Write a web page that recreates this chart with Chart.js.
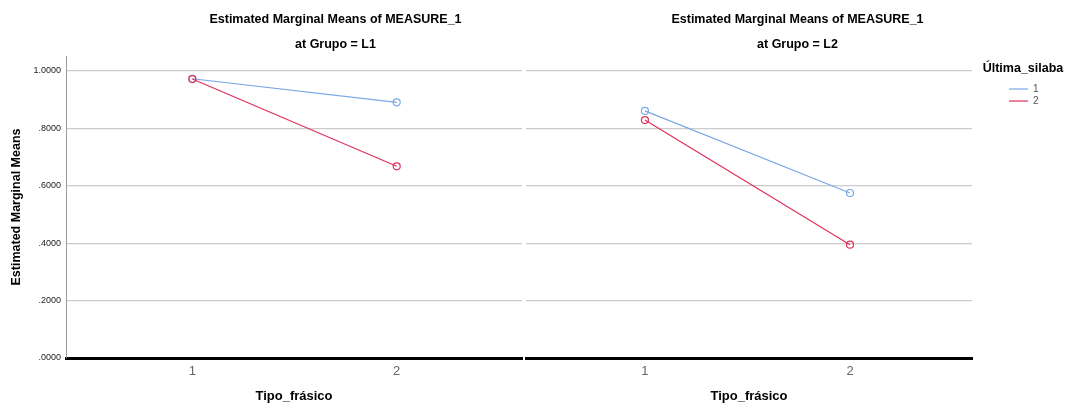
<!DOCTYPE html>
<html>
<head>
<meta charset="utf-8">
<script src="https://cdn.jsdelivr.net/npm/chart.js@4"></script>
<style>
    body { margin: 0; background: #fff; width: 1067px; height: 406px; overflow: hidden; position: relative; }
    canvas { position: absolute; top: 0; }
    #grupoL1 { left: 0; }
    #grupoL2 { left: 524px; }
</style>
</head>
<body>
<canvas id="grupoL1" width="524" height="406"></canvas>
<canvas id="grupoL2" width="543" height="406"></canvas>
<script>
var tipoFrasico = ['1', '2'];
var ultimaSilaba = ['1', '2'];
var yTicks = [0, 0.2, 0.4, 0.6, 0.8, 1.0];

// estimated marginal means, one array per Última_silaba level
var l1Silaba1 = [0.973, 0.891];
var l1Silaba2 = [0.972, 0.668];
var l2Silaba1 = [0.861, 0.575];
var l2Silaba2 = [0.829, 0.395];

var AZUL = '#7aa8e6';
var ROJO = '#e0305a';
var FUENTE = '"Liberation Sans", Arial, Helvetica, sans-serif';

Chart.defaults.font.family = FUENTE;
Chart.defaults.color = '#333';

// two-line panel heading (centred a bit right of the plot area)
// plus the legend heading above the legend items
var tituloPanel = {
    id: 'tituloPanel',
    afterDraw: function (chart, args, opts) {
        var ctx = chart.ctx, area = chart.chartArea;
        var x = (area.left + area.right) / 2 + opts.desplazamiento;
        ctx.save();
        ctx.font = 'bold 12.5px ' + FUENTE;
        ctx.fillStyle = '#000';
        ctx.textAlign = 'center';
        ctx.textBaseline = 'middle';
        opts.lineas.forEach(function (t, i) {
            ctx.fillText(t, x, 20 + i * 25);
        });
        if (opts.encabezadoLeyenda && chart.legend && chart.legend.options.display) {
            var lg = chart.legend;
            ctx.fillText(opts.encabezadoLeyenda, (lg.left + lg.right) / 2, 69);
        }
        ctx.restore();
    }
};

function serie(etiqueta, valores, color, orden) {
    return {
        label: etiqueta,
        data: valores.map(function (v, i) { return { x: i + 1, y: v }; }),
        borderColor: color,
        borderWidth: 1.2,
        pointRadius: 3.5,
        pointBorderWidth: 1.2,
        pointBorderColor: color,
        pointBackgroundColor: 'rgba(255,255,255,0)',
        order: orden,
        tension: 0,
        fill: false
    };
}

function ejeX(min, max) {
    return {
        type: 'linear',
        min: min,
        max: max,
        afterBuildTicks: function (s) {
            s.ticks = tipoFrasico.map(function (t, i) { return { value: i + 1 }; });
        },
        afterFit: function (s) { s.height = 48; },
        grid: { drawTicks: false, color: 'rgba(0,0,0,0)' },
        border: { color: '#000', width: 3 },
        ticks: {
            padding: 6,
            font: { size: 13 },
            color: '#666',
            callback: function (v) { return tipoFrasico[v - 1]; }
        },
        title: {
            display: true,
            text: 'Tipo_frásico',
            color: '#000',
            font: { size: 13, weight: 'bold' },
            padding: { top: 0, bottom: 1.5 }
        }
    };
}

function ejeY(visible) {
    return {
        type: 'linear',
        position: visible ? 'left' : 'right',
        min: 0,
        max: 1.0523,
        afterBuildTicks: function (s) {
            s.ticks = yTicks.map(function (v) { return { value: v }; });
        },
        afterFit: function (s) { s.width = visible ? 66 : 35; },
        grid: {
            drawTicks: false,
            lineWidth: 1.3,
            color: function (c) {
                return c.tick && c.tick.value === 0 ? 'rgba(0,0,0,0)' : '#cccccc';
            }
        },
        border: { display: visible, color: '#999', width: 1 },
        ticks: {
            display: visible,
            padding: 5,
            font: { size: 9 },
            color: '#222',
            callback: function (v) { return v.toFixed(4).replace(/^0\./, '.'); }
        },
        title: {
            display: visible,
            text: 'Estimated Marginal Means',
            color: '#000',
            font: { size: 12.5, weight: 'bold' },
            padding: { top: 9.5, bottom: 0 }
        }
    };
}

new Chart(document.getElementById('grupoL1').getContext('2d'), {
    type: 'line',
    data: {
        datasets: [
            serie(ultimaSilaba[0], l1Silaba1, AZUL, 1),
            serie(ultimaSilaba[1], l1Silaba2, ROJO, 0)
        ]
    },
    options: {
        responsive: false,
        animation: false,
        events: [],
        layout: { autoPadding: false, padding: { top: 56, right: 2, left: 0, bottom: 0 } },
        scales: { x: ejeX(0.382, 2.613), y: ejeY(true) },
        plugins: {
            legend: { display: false },
            tooltip: { enabled: false },
            tituloPanel: { lineas: ['Estimated Marginal Means of MEASURE_1', 'at Grupo = L1'], desplazamiento: 41.5 }
        }
    },
    plugins: [tituloPanel]
});

new Chart(document.getElementById('grupoL2').getContext('2d'), {
    type: 'line',
    data: {
        datasets: [
            serie(ultimaSilaba[0], l2Silaba1, AZUL, 1),
            serie(ultimaSilaba[1], l2Silaba2, ROJO, 0)
        ]
    },
    options: {
        responsive: false,
        animation: false,
        events: [],
        layout: { autoPadding: false, padding: { top: 56, right: 28, left: 2, bottom: 0 } },
        scales: { x: ejeX(0.42, 2.595), y: ejeY(false) },
        plugins: {
            legend: {
                display: true,
                position: 'right',
                align: 'start',
                fullSize: false,
                maxWidth: 32,
                // empty title only keeps room for the heading drawn above the items
                title: { display: true, text: '', font: { size: 12.5 }, padding: { top: 11, bottom: 0 } },
                labels: {
                    usePointStyle: true,
                    pointStyle: 'line',
                    pointStyleWidth: 19,
                    padding: 2,
                    color: '#555',
                    font: { size: 10 },
                    sort: function (a, b) { return a.datasetIndex - b.datasetIndex; }
                }
            },
            tooltip: { enabled: false },
            tituloPanel: {
                lineas: ['Estimated Marginal Means of MEASURE_1', 'at Grupo = L2'],
                desplazamiento: 48.5,
                encabezadoLeyenda: 'Última_silaba'
            }
        }
    },
    plugins: [tituloPanel]
});
</script>
</body>
</html>
